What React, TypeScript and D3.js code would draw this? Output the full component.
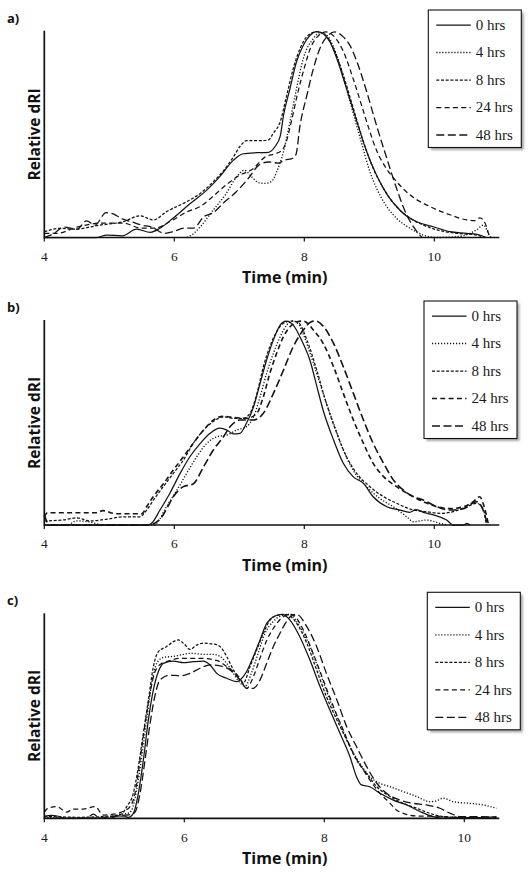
import React from "react";
import * as d3 from "d3";

type Pt = [number, number];

// ---------- data ----------
const SERIES_NAMES = ["0 hrs", "4 hrs", "8 hrs", "24 hrs", "48 hrs"];
const X_TICKS = [4, 6, 8, 10];
const PANEL_LABELS = ["a)", "b)", "c)"];
const X_TITLE = "Time (min)";
const Y_TITLE = "Relative dRI";

// Panel a (time in min, relative dRI)
const A_0H: Pt[] = [[4.0,0],[4.8,0],[4.96,0.012],[5.2,0.008],[5.42,0.04],[5.63,0.025],[5.78,0.045],[5.98,0.093],[6.24,0.163],[6.5,0.229],[6.7,0.294],[6.91,0.374],[7.06,0.405],[7.27,0.41],[7.45,0.412],[7.55,0.44],[7.63,0.49],[7.68,0.59],[7.78,0.72],[7.88,0.85],[7.985,0.93],[8.09,0.978],[8.19,0.995],[8.29,0.985],[8.395,0.946],[8.5,0.866],[8.65,0.72],[8.81,0.559],[8.96,0.415],[9.11,0.302],[9.27,0.21],[9.35,0.175],[9.42,0.15],[9.52,0.117],[9.73,0.076],[9.985,0.052],[10.24,0.028],[10.5,0.02],[10.7,0.012],[10.8,0]];
const A_4H: Pt[] = [[6.2,0],[6.3,0.02],[6.4,0.052],[6.6,0.133],[6.8,0.213],[6.95,0.29],[7.08,0.325],[7.2,0.29],[7.3,0.265],[7.4,0.262],[7.5,0.272],[7.575,0.318],[7.68,0.415],[7.78,0.56],[7.88,0.72],[7.985,0.866],[8.14,0.962],[8.24,0.99],[8.345,0.978],[8.5,0.88],[8.7,0.66],[8.86,0.48],[9.01,0.318],[9.22,0.173],[9.42,0.093],[9.63,0.044],[9.83,0.012],[10.04,0],[10.35,0.004],[10.55,0.02],[10.65,0.037],[10.76,0.06],[10.83,0.02],[10.87,0]];
const A_8H: Pt[] = [[4.0,0.028],[4.24,0.044],[4.45,0.04],[4.86,0.06],[5.22,0.077],[5.47,0.105],[5.68,0.085],[5.88,0.125],[6.19,0.173],[6.4,0.213],[6.6,0.27],[6.75,0.32],[6.91,0.39],[7.01,0.44],[7.11,0.468],[7.32,0.468],[7.45,0.472],[7.52,0.503],[7.63,0.56],[7.73,0.688],[7.83,0.817],[7.935,0.914],[8.06,0.978],[8.19,0.995],[8.32,0.98],[8.45,0.914],[8.6,0.785],[8.755,0.624],[8.91,0.463],[9.06,0.334],[9.22,0.237],[9.42,0.149],[9.63,0.093],[9.83,0.06],[10.04,0.037],[10.35,0.02],[10.65,0.012],[10.76,0]];
const A_24H: Pt[] = [[4.0,0.02],[4.2,0.02],[4.5,0.05],[4.9,0.07],[5.2,0.07],[5.5,0.045],[5.7,0.045],[5.95,0.08],[6.2,0.125],[6.4,0.15],[6.6,0.2],[6.8,0.255],[7.0,0.3],[7.2,0.33],[7.4,0.39],[7.55,0.405],[7.65,0.42],[7.72,0.46],[7.8,0.56],[7.9,0.7],[8.0,0.82],[8.1,0.92],[8.2,0.97],[8.33,0.994],[8.45,0.975],[8.6,0.9],[8.75,0.77],[8.9,0.62],[9.0,0.52],[9.1,0.43],[9.27,0.33],[9.42,0.27],[9.63,0.205],[9.93,0.15],[10.24,0.11],[10.5,0.085],[10.62,0.082],[10.7,0.095],[10.78,0.07],[10.85,0]];
const A_48H: Pt[] = [[4.0,0],[4.15,0.02],[4.3,0.05],[4.5,0.04],[4.65,0.08],[4.78,0.06],[4.95,0.12],[5.05,0.115],[5.2,0.09],[5.35,0.075],[5.5,0.06],[5.65,0.05],[5.85,0.02],[6.0,0.03],[6.15,0.045],[6.3,0.045],[6.45,0.1],[6.6,0.12],[6.75,0.165],[6.95,0.22],[7.15,0.29],[7.3,0.35],[7.45,0.365],[7.6,0.36],[7.7,0.375],[7.8,0.38],[7.87,0.4],[7.935,0.543],[8.04,0.688],[8.14,0.817],[8.24,0.914],[8.345,0.97],[8.47,0.994],[8.6,0.97],[8.7,0.93],[8.81,0.85],[8.96,0.705],[9.11,0.543],[9.27,0.382],[9.42,0.237],[9.575,0.109],[9.73,0.03],[9.81,0]];

// Panel b
const B_0H: Pt[] = [[4.0,0],[5.6,0],[5.65,0.008],[5.78,0.073],[5.93,0.154],[6.09,0.252],[6.24,0.333],[6.4,0.398],[6.55,0.447],[6.7,0.472],[6.81,0.463],[6.91,0.444],[7.01,0.447],[7.11,0.496],[7.22,0.577],[7.32,0.691],[7.42,0.805],[7.525,0.903],[7.63,0.976],[7.72,0.995],[7.83,0.975],[7.96,0.9],[8.09,0.8],[8.19,0.68],[8.29,0.56],[8.45,0.415],[8.6,0.301],[8.75,0.236],[8.91,0.203],[9.06,0.138],[9.27,0.089],[9.47,0.073],[9.62,0.062],[9.72,0.075],[9.85,0.06],[9.985,0.049],[10.19,0.024],[10.29,0],[10.45,0],[10.5,0.008],[10.55,0]];
const B_4H: Pt[] = [[4.0,0],[4.35,0],[4.5,0.02],[4.7,0.015],[4.9,0],[5.7,0],[5.73,0.008],[5.88,0.09],[6.04,0.17],[6.19,0.252],[6.345,0.333],[6.5,0.398],[6.65,0.43],[6.81,0.439],[6.96,0.463],[7.11,0.48],[7.22,0.528],[7.32,0.626],[7.42,0.74],[7.525,0.838],[7.63,0.919],[7.73,0.976],[7.82,0.995],[7.92,0.975],[7.985,0.93],[8.14,0.789],[8.29,0.642],[8.45,0.496],[8.6,0.366],[8.75,0.268],[8.96,0.187],[9.16,0.13],[9.37,0.089],[9.575,0.04],[9.68,0.016],[9.88,0.024],[10.09,0.008],[10.2,0]];
const B_8H: Pt[] = [[4.0,0.02],[4.3,0.025],[4.5,0.035],[4.7,0.02],[5.0,0.03],[5.2,0.04],[5.47,0.04],[5.575,0.073],[5.68,0.122],[5.83,0.187],[5.985,0.252],[6.14,0.317],[6.29,0.398],[6.45,0.463],[6.6,0.505],[6.755,0.528],[6.91,0.52],[7.06,0.52],[7.165,0.545],[7.27,0.64],[7.37,0.772],[7.47,0.87],[7.575,0.943],[7.68,0.984],[7.8,0.995],[7.9,0.99],[8.04,0.903],[8.19,0.757],[8.34,0.593],[8.5,0.447],[8.65,0.333],[8.805,0.252],[9.01,0.187],[9.22,0.138],[9.42,0.106],[9.68,0.073],[9.88,0.065],[10.09,0.057],[10.29,0.065],[10.5,0.089],[10.65,0.106],[10.75,0.08],[10.8,0]];
const B_24H: Pt[] = [[4.0,0.04],[4.05,0.06],[4.4,0.06],[4.8,0.06],[4.9,0.07],[5.1,0.055],[5.5,0.055],[5.575,0.09],[5.68,0.14],[5.83,0.2],[5.985,0.268],[6.14,0.333],[6.29,0.398],[6.45,0.463],[6.6,0.512],[6.755,0.53],[6.91,0.525],[7.11,0.52],[7.27,0.545],[7.37,0.626],[7.47,0.74],[7.575,0.838],[7.68,0.919],[7.78,0.967],[7.885,0.99],[7.985,0.995],[8.14,0.951],[8.29,0.886],[8.45,0.772],[8.6,0.642],[8.755,0.512],[8.91,0.398],[9.06,0.301],[9.22,0.236],[9.42,0.187],[9.63,0.146],[9.83,0.114],[10.04,0.089],[10.24,0.08],[10.45,0.089],[10.6,0.114],[10.7,0.138],[10.75,0.106],[10.83,0.008]];
const B_48H: Pt[] = [[4.0,0.05],[4.08,0],[5.6,0],[5.75,0.02],[5.83,0.05],[5.9,0.09],[5.985,0.138],[6.14,0.187],[6.29,0.2],[6.45,0.284],[6.6,0.366],[6.755,0.43],[6.86,0.48],[7.01,0.512],[7.22,0.512],[7.37,0.545],[7.525,0.642],[7.68,0.756],[7.83,0.87],[7.985,0.951],[8.1,0.99],[8.17,0.995],[8.29,0.97],[8.45,0.886],[8.6,0.772],[8.755,0.642],[8.91,0.512],[9.06,0.398],[9.22,0.301],[9.37,0.22],[9.52,0.171],[9.68,0.138],[9.83,0.122],[10.04,0.089],[10.24,0.073],[10.45,0.08],[10.65,0.114],[10.75,0.073],[10.82,0]];

// Panel c
const C_0H: Pt[] = [[4.0,0.01],[4.1,0.014],[4.2,0.01],[4.3,0],[4.95,0],[5.05,0.012],[5.15,0.01],[5.2,0.004],[5.272,0.024],[5.344,0.122],[5.415,0.284],[5.487,0.48],[5.558,0.626],[5.63,0.716],[5.701,0.756],[5.844,0.767],[5.987,0.759],[6.13,0.764],[6.272,0.767],[6.368,0.748],[6.463,0.707],[6.606,0.683],[6.749,0.667],[6.796,0.675],[6.891,0.716],[6.987,0.789],[7.082,0.87],[7.177,0.951],[7.272,0.983],[7.39,0.995],[7.51,0.967],[7.65,0.886],[7.795,0.772],[7.94,0.642],[8.08,0.528],[8.224,0.415],[8.367,0.3],[8.46,0.203],[8.53,0.163],[8.65,0.154],[8.795,0.122],[8.986,0.089],[9.176,0.065],[9.367,0.033],[9.557,0.008],[9.7,0],[9.89,0.003],[10.2,0.003],[10.46,0.008]];
const C_4H: Pt[] = [[4.0,0.005],[4.5,0],[4.8,0.005],[5.0,0.01],[5.1,0.02],[5.2,0.025],[5.248,0.04],[5.32,0.14],[5.391,0.3],[5.463,0.48],[5.534,0.66],[5.606,0.756],[5.701,0.785],[5.85,0.79],[5.95,0.797],[6.1,0.805],[6.272,0.8],[6.4,0.8],[6.51,0.79],[6.606,0.756],[6.701,0.707],[6.8,0.66],[6.87,0.645],[6.95,0.7],[7.05,0.8],[7.15,0.9],[7.27,0.96],[7.4,0.99],[7.5,0.995],[7.65,0.935],[7.795,0.838],[7.94,0.707],[8.08,0.577],[8.224,0.463],[8.367,0.35],[8.51,0.268],[8.65,0.203],[8.795,0.171],[8.94,0.154],[9.13,0.13],[9.32,0.106],[9.51,0.081],[9.6,0.085],[9.7,0.098],[9.84,0.081],[10.08,0.073],[10.27,0.065],[10.46,0.049]];
const C_8H: Pt[] = [[4.0,0.01],[4.5,0.005],[4.9,0.01],[5.1,0.02],[5.177,0.057],[5.272,0.122],[5.344,0.252],[5.415,0.415],[5.487,0.577],[5.558,0.74],[5.63,0.813],[5.749,0.838],[5.844,0.862],[5.915,0.87],[5.987,0.854],[6.082,0.824],[6.177,0.845],[6.272,0.854],[6.415,0.85],[6.51,0.838],[6.606,0.789],[6.701,0.724],[6.796,0.675],[6.844,0.66],[6.939,0.74],[7.034,0.821],[7.13,0.902],[7.225,0.967],[7.33,0.99],[7.45,0.995],[7.605,0.951],[7.75,0.854],[7.89,0.724],[8.03,0.594],[8.18,0.48],[8.32,0.382],[8.46,0.284],[8.6,0.22],[8.75,0.154],[8.94,0.106],[9.13,0.073],[9.32,0.049],[9.51,0.024],[9.7,0.008],[9.89,0.005],[10.3,0.003]];
const C_24H: Pt[] = [[4.0,0.03],[4.05,0.049],[4.177,0.057],[4.32,0.03],[4.415,0.045],[4.558,0.045],[4.725,0.057],[4.844,0.016],[4.987,0.02],[5.1,0.03],[5.225,0.057],[5.296,0.122],[5.368,0.284],[5.439,0.46],[5.51,0.61],[5.582,0.716],[5.677,0.756],[5.749,0.764],[5.939,0.78],[6.225,0.78],[6.463,0.77],[6.606,0.74],[6.796,0.683],[6.891,0.634],[6.987,0.691],[7.08,0.78],[7.18,0.87],[7.3,0.94],[7.4,0.98],[7.53,0.995],[7.7,0.919],[7.84,0.805],[7.985,0.675],[8.13,0.545],[8.27,0.431],[8.415,0.317],[8.557,0.236],[8.65,0.187],[8.795,0.122],[8.94,0.073],[9.03,0.041],[9.13,0.024],[9.32,0.011],[9.6,0.01],[9.9,0.005],[10.2,0.004]];
const C_48H: Pt[] = [[4.0,0],[4.6,0],[4.7,0.02],[4.8,0],[5.0,0.01],[5.15,0.015],[5.25,0.02],[5.296,0.03],[5.368,0.122],[5.439,0.284],[5.51,0.46],[5.582,0.6],[5.653,0.675],[5.796,0.699],[5.939,0.695],[6.082,0.707],[6.225,0.732],[6.368,0.748],[6.51,0.743],[6.653,0.724],[6.796,0.675],[6.891,0.634],[6.987,0.634],[7.082,0.675],[7.177,0.756],[7.272,0.838],[7.367,0.903],[7.45,0.955],[7.52,0.985],[7.6,0.995],[7.75,0.935],[7.89,0.838],[8.03,0.707],[8.18,0.577],[8.32,0.447],[8.46,0.35],[8.605,0.252],[8.75,0.171],[8.89,0.122],[9.08,0.089],[9.27,0.073],[9.46,0.065],[9.65,0.049],[9.8,0.024],[9.95,0.008],[10.2,0.008],[10.46,0.004]];

const X_MAX = [11, 11, 10.5];
const PANEL_SERIES: Pt[][][] = [
  [A_0H, A_4H, A_8H, A_24H, A_48H],
  [B_0H, B_4H, B_8H, B_24H, B_48H],
  [C_0H, C_4H, C_8H, C_24H, C_48H],
];

// ---------- styles / layout ----------
const DASHES = [undefined, "1.2,1.8", "3,1.7", "5,3.3", "8,3.5"];
const INK = "#141414";

interface Layout {
  top: number;
  bottom: number;
  tickY: number;
  titleY: number;
  yTitleCY: number;
  labelY: number;
  legend: { x: number; y: number };
  widths: number[];
}

const LAYOUTS: Layout[] = [
  { top: 30.7, bottom: 237.5, tickY: 260.5, titleY: 283, yTitleCY: 134.5, labelY: 22.5, legend: { x: 428.3, y: 10 }, widths: [1.25, 1.35, 1.25, 1.25, 1.3] },
  { top: 320, bottom: 525, tickY: 548, titleY: 571, yTitleCY: 423, labelY: 312, legend: { x: 424, y: 301 }, widths: [1.25, 1.35, 1.25, 1.6, 1.6] },
  { top: 613.3, bottom: 818.3, tickY: 841.5, titleY: 864, yTitleCY: 716, labelY: 605, legend: { x: 427.3, y: 592.3 }, widths: [1.25, 1.35, 1.25, 1.25, 1.3] },
];

const X0 = 44.3;
const X1 = 499.3;

function Panel({ idx }: { idx: number }) {
  const L = LAYOUTS[idx];
  const series = PANEL_SERIES[idx];
  const x = d3.scaleLinear().domain([4, X_MAX[idx]]).range([X0, X1]);
  const y = d3.scaleLinear().domain([0, 1]).range([L.bottom, L.top]);
  const line = d3
    .line<Pt>()
    .x((d) => x(d[0]))
    .y((d) => y(d[1]))
    .curve(d3.curveMonotoneX);

  const lg = L.legend;
  const boxW = 93;
  const boxH = 137.5;
  return (
    <g>
      {series.map((s, i) => (
        <path
          key={i}
          d={line(s) || ""}
          fill="none"
          stroke={INK}
          strokeWidth={L.widths[i]}
          strokeDasharray={DASHES[i]}
          strokeLinejoin="round"
        />
      ))}
      {/* axes */}
      <line x1={X0} x2={X0} y1={L.top} y2={L.bottom + 0.8} stroke="#111" strokeWidth={1.7} />
      <line x1={X0} x2={X1} y1={L.bottom} y2={L.bottom} stroke="#111" strokeWidth={1.7} />
      {X_TICKS.map((t) => (
        <g key={t}>
          <line x1={x(t)} x2={x(t)} y1={L.bottom} y2={L.bottom + 4} stroke="#111" strokeWidth={1.2} />
          <text
            x={x(t)}
            y={L.tickY}
            textAnchor="middle"
            fontFamily="'Liberation Serif', 'Times New Roman', serif"
            fontSize={13.5}
            fill="#1a1a1a"
          >
            {t}
          </text>
        </g>
      ))}
      <text
        x={(X0 + X1) / 2 + 13}
        y={L.titleY}
        textAnchor="middle"
        fontFamily="'Open Sans', sans-serif"
        fontWeight="bold"
        fontSize={16}
        fill="#111"
      >
        {X_TITLE}
      </text>
      <text
        transform={`translate(39.5, ${L.yTitleCY}) rotate(-90)`}
        textAnchor="middle"
        fontFamily="'Open Sans', sans-serif"
        fontWeight="bold"
        fontSize={15.5}
        fill="#111"
      >
        {Y_TITLE}
      </text>
      <text
        x={7}
        y={L.labelY}
        fontFamily="'Open Sans', sans-serif"
        fontWeight="bold"
        fontSize={13}
        fill="#111"
      >
        {PANEL_LABELS[idx]}
      </text>
      {/* legend */}
      <rect x={lg.x + 2.5} y={lg.y + 2.5} width={boxW} height={boxH} fill="#8a8a8a" opacity={0.75} filter="url(#shadowBlur)" />
      <rect x={lg.x} y={lg.y} width={boxW} height={boxH} fill="#fff" stroke="#111" strokeWidth={1.1} />
      {SERIES_NAMES.map((name, i) => {
        const ly = lg.y + 15 + i * 27.5;
        return (
          <g key={name}>
            <line
              x1={lg.x + 8}
              x2={lg.x + 42.5}
              y1={ly}
              y2={ly}
              stroke={INK}
              strokeWidth={L.widths[i]}
              strokeDasharray={DASHES[i]}
            />
            <text
              x={lg.x + 47.5}
              y={ly + 4.8}
              fontFamily="'Liberation Serif', 'Times New Roman', serif"
              fontSize={15}
              fill="#1a1a1a"
            >
              {name}
            </text>
          </g>
        );
      })}
    </g>
  );
}

export default function App() {
  return (
    <svg
      width={532}
      height={877}
      viewBox="0 0 532 877"
      style={{ position: "absolute", left: 0, top: 0, background: "#fff" }}
    >
      <defs>
        <filter id="shadowBlur" x="-20%" y="-20%" width="140%" height="140%">
          <feGaussianBlur stdDeviation={1.3} />
        </filter>
      </defs>
      <rect x={0} y={0} width={532} height={877} fill="#fff" />
      {[0, 1, 2].map((i) => (
        <Panel key={i} idx={i} />
      ))}
    </svg>
  );
}
